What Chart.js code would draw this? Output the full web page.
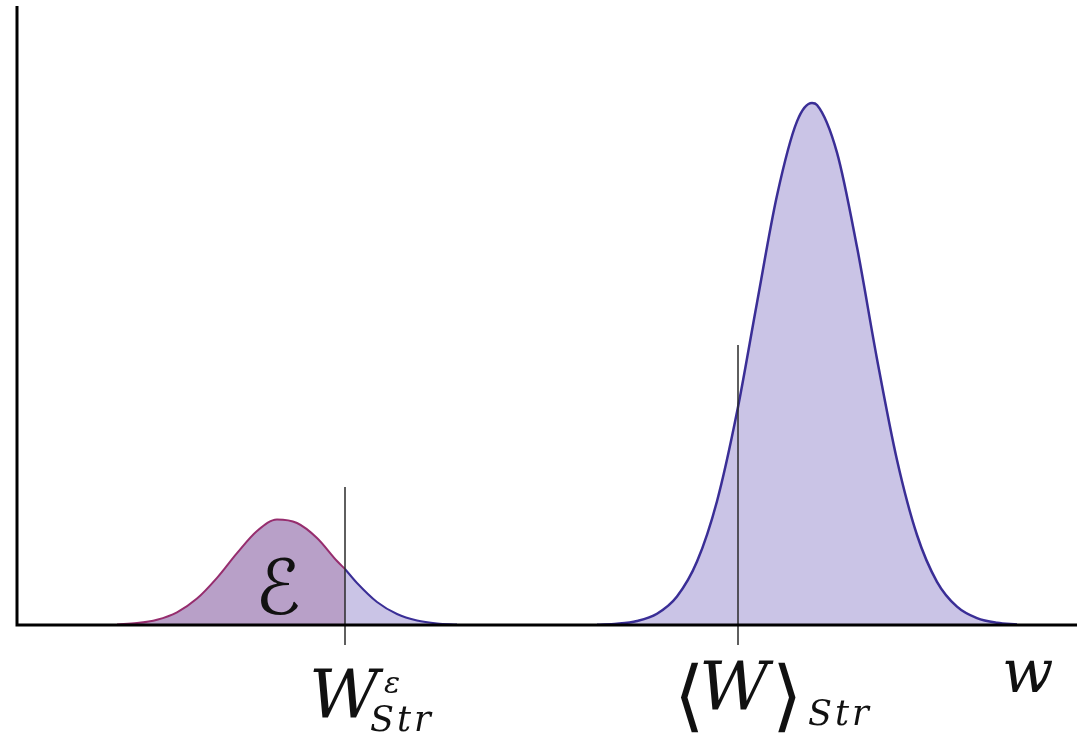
<!DOCTYPE html>
<html>
<head>
<meta charset="utf-8">
<script src="https://cdn.jsdelivr.net/npm/chart.js@4/dist/chart.umd.min.js"></script>
<style>
  html, body { margin: 0; padding: 0; background: #fff; }
  #contenedor { width: 1077px; height: 740px; position: relative; }
</style>
</head>
<body>
<div id="contenedor"><canvas id="grafico"></canvas></div>
<script>
// Curva pequeña (ε): parte izquierda hasta W^ε y parte derecha desde W^ε
const xEpsIzq = [1.0, 1.2, 1.4, 1.6, 1.8, 2.0, 2.2, 2.4, 2.6, 2.8, 3.0, 3.2, 3.28];
const yEpsIzq = [0.006, 0.019, 0.053, 0.127, 0.264, 0.471, 0.718, 0.940, 1.055, 1.020, 0.870, 0.640, 0.560];
const xEpsDer = [3.28, 3.4, 3.6, 3.8, 4.0, 4.2, 4.4];
const yEpsDer = [0.560, 0.420, 0.230, 0.110, 0.045, 0.015, 0.004];

// Curva grande (distribución de W)
const xGrande = [5.8, 6.0, 6.2, 6.4, 6.6, 6.8, 7.0, 7.2, 7.4, 7.6, 7.8, 7.95, 8.0, 8.2, 8.4, 8.6, 8.8, 9.0, 9.2, 9.4, 9.6, 9.8, 10.0];
const yGrande = [0.002, 0.012, 0.040, 0.113, 0.285, 0.634, 1.238, 2.129, 3.223, 4.295, 5.036, 5.220, 5.200, 4.724, 3.779, 2.661, 1.650, 0.900, 0.432, 0.183, 0.068, 0.022, 0.006];

// Marcas verticales: W^ε_Str y <W>_Str
const xMarcas = [3.28, 7.21];
const altoMarcas = [1.38, 2.80];
const baseMarcas = -0.2;

const puntos = (xs, ys) => xs.map((x, i) => ({ x: x, y: ys[i] }));

// Dibuja los ejes y los textos en notación matemática
const pluginTextos = {
  id: 'textos',
  afterDatasetsDraw(chart) {
    const { ctx, chartArea, scales } = chart;
    const sx = scales.x;
    ctx.save();
    // ejes
    ctx.strokeStyle = '#000';
    ctx.lineWidth = 3;
    ctx.beginPath();
    ctx.moveTo(chartArea.left, chartArea.top);
    ctx.lineTo(chartArea.left, chartArea.bottom);
    ctx.lineTo(chartArea.right, chartArea.bottom);
    ctx.stroke();

    ctx.fillStyle = '#111';
    ctx.textBaseline = 'alphabetic';
    ctx.textAlign = 'left';

    // ℰ dentro de la curva pequeña
    ctx.font = '76px "DejaVu Sans"';
    ctx.fillText('ℰ', sx.getPixelForValue(2.38), 614);

    // W^ε_Str
    const m1 = sx.getPixelForValue(xMarcas[0]);
    ctx.font = 'italic 68px "DejaVu Serif"';
    ctx.fillText('W', m1 - 36, 718);
    ctx.font = 'italic 30px "DejaVu Serif"';
    ctx.fillText('ε', m1 + 39, 693);
    ctx.font = 'italic 35px "DejaVu Serif"';
    ctx.letterSpacing = '3px';
    ctx.fillText('Str', m1 + 25, 731);
    ctx.letterSpacing = '0px';

    // <W>_Str
    const m2 = sx.getPixelForValue(xMarcas[1]);
    ctx.font = '78px "DejaVu Serif"';
    ctx.fillText('⟨', m2 - 64, 722);
    ctx.font = 'italic 68px "DejaVu Serif"';
    ctx.fillText('W', m2 - 39, 710);
    ctx.font = '78px "DejaVu Serif"';
    ctx.fillText('⟩', m2 + 34, 722);
    ctx.font = 'italic 35px "DejaVu Serif"';
    ctx.letterSpacing = '3px';
    ctx.fillText('Str', m2 + 70, 725);
    ctx.letterSpacing = '0px';

    // w
    ctx.font = 'italic 60px "DejaVu Serif"';
    ctx.fillText('w', sx.getPixelForValue(9.85), 692);
    ctx.restore();
  }
};

const datasets = [];
// marcas verticales primero (quedan encima)
xMarcas.forEach((x, i) => {
  datasets.push({
    data: [{ x: x, y: baseMarcas }, { x: x, y: altoMarcas[i] }],
    borderColor: '#2a2a2a',
    borderWidth: 1.5,
    pointRadius: 0,
    fill: false,
    clip: false,
    order: 0
  });
});
datasets.push({
  data: puntos(xEpsIzq, yEpsIzq),
  borderColor: 'rgb(150, 45, 110)',
  backgroundColor: 'rgb(184, 160, 200)',
  borderWidth: 2,
  fill: 'origin',
  order: 2
});
datasets.push({
  data: puntos(xEpsDer, yEpsDer),
  borderColor: 'rgb(58, 46, 150)',
  backgroundColor: 'rgb(202, 196, 230)',
  borderWidth: 2,
  fill: 'origin',
  order: 2
});
datasets.push({
  data: puntos(xGrande, yGrande),
  borderColor: 'rgb(58, 46, 150)',
  backgroundColor: 'rgb(202, 196, 230)',
  borderWidth: 2.5,
  fill: 'origin',
  order: 2
});

new Chart(document.getElementById('grafico'), {
  type: 'line',
  data: { datasets: datasets },
  options: {
    responsive: true,
    maintainAspectRatio: false,
    animation: false,
    layout: { padding: { left: 17, top: 6, right: 0, bottom: 115 } },
    elements: { point: { radius: 0 }, line: { cubicInterpolationMode: 'monotone' } },
    plugins: { legend: { display: false }, tooltip: { enabled: false } },
    scales: {
      x: {
        type: 'linear', min: 0, max: 10.6,
        grid: { display: false, drawTicks: false },
        border: { display: false },
        ticks: { display: false }
      },
      y: {
        type: 'linear', min: 0, max: 6.19,
        grid: { display: false, drawTicks: false },
        border: { display: false },
        ticks: { display: false }
      }
    }
  },
  plugins: [pluginTextos]
});
</script>
</body>
</html>
